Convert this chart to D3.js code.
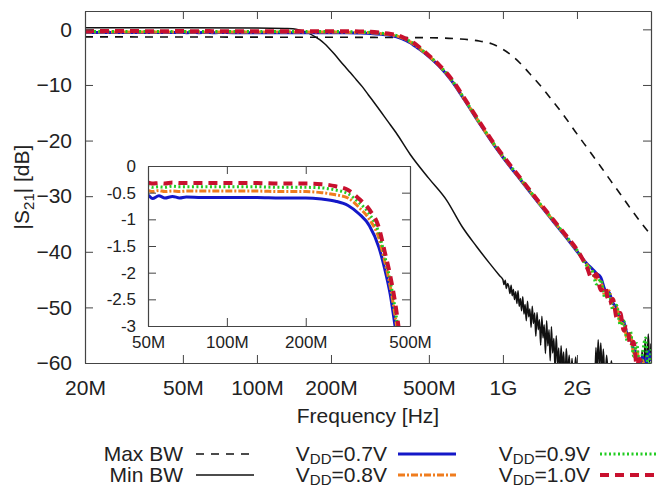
<!DOCTYPE html>
<html>
<head>
<meta charset="utf-8">
<script src="https://cdn.jsdelivr.net/npm/d3@7"></script>
<style>
body { margin: 0; background: #fff; }
svg text { font-family: "Liberation Sans", Arial, sans-serif; fill: #222; }
</style>
</head>
<body>
<script>
// all frequencies in MHz, levels in dB
let xTicks = [20, 50, 100, 200, 500, 1000, 2000]
let xTickLabels = ["20M", "50M", "100M", "200M", "500M", "1G", "2G"]
let yTicks = [0, -10, -20, -30, -40, -50, -60]
let insetXTicks = [50, 100, 200, 500]
let insetXTickLabels = ["50M", "100M", "200M", "500M"]
let insetYTicks = [0, -0.5, -1, -1.5, -2, -2.5, -3]

let maxBwFreq = [20, 100, 300, 500, 650, 800, 900, 1000, 1100, 1200, 1300, 1450, 1600, 1750, 2000, 2250, 2500, 2750, 3000, 3300, 3650, 4000]
let maxBwDb = [-1.35, -1.4, -1.45, -1.5, -1.7, -2.1, -2.6, -3.6, -4.9, -6.5, -8.2, -10.6, -13.0, -15.2, -18.8, -21.9, -24.7, -27.3, -29.6, -32.2, -34.8, -37.0]

let minBwFreq = [20, 50, 100, 130, 140, 150, 158, 165, 172, 180, 188, 196, 206, 217, 228, 240, 254, 268, 284, 300,
    340, 368, 420, 500, 590, 683, 780, 880, 970,
    1000, 1010, 1022, 1033, 1045, 1056, 1068, 1080, 1091, 1103, 1115, 1127, 1140, 1152, 1165, 1178, 1191, 1204, 1218, 1231,
    1245, 1259, 1273, 1287, 1302, 1316, 1331, 1346, 1361, 1376, 1392, 1408, 1424, 1440, 1456, 1472, 1489, 1506, 1523, 1540,
    1557, 1575, 1593, 1611, 1629, 1648, 1667, 1686, 1705, 1724,
    1745, 1765, 1790, 1810, 1835, 1860, 1885, 1910, 1940, 1975, 2010, 2060, 2120, 2200, 2260, 2310, 2360, 2390, 2410, 2440,
    2470, 2500, 2530, 2560, 2600, 2640, 2700, 2760, 2850, 2950, 3050, 3200, 3350, 3500, 3600, 3680, 3730, 3790, 3840, 3900,
    3950, 4000]
let minBwDb = [0.3, 0.3, 0.25, 0.15, 0.1, -0.15, -0.45, -0.85, -1.3, -1.85, -2.55, -3.35, -4.4, -5.6, -6.7, -7.8, -9.1, -10.3, -11.8, -13.2,
    -16.5, -18.6, -22.5, -26.8, -30.7, -35.5, -39.0, -42.0, -44.3,
    -45.0, -45.9, -45.1, -46.6, -45.7, -46.2, -47.5, -46.0, -47.9, -46.8, -48.6, -47.2, -49.3, -47.0, -49.8, -48.4, -50.6, -48.1, -51.2, -49.5,
    -52.4, -48.9, -51.7, -50.3, -53.6, -49.8, -52.9, -51.0, -55.2, -50.9, -54.0, -52.2, -56.8, -51.6, -55.5, -53.1, -58.3, -52.4, -56.9, -54.0,
    -59.6, -53.5, -58.2, -55.6, -61.0, -55.1, -60.4, -57.3, -62.5, -56.9,
    -61, -58.0, -63, -57.4, -61.5, -58.6, -63, -59.2, -64, -58.9, -63, -60.3, -64, -62, -65, -61, -64, -57.2, -62, -55.8,
    -61, -56.4, -62, -57.5, -63, -58.6, -64, -59.6, -65, -61, -64, -62, -65, -60.5, -64, -57.8, -62, -55.6, -61, -54.8,
    -60, -56.5]

let vddFreq = [20, 30, 40, 50, 52, 55, 58, 62, 66, 70, 80, 100, 130, 160, 200, 230, 260, 290, 320, 350,
    380, 400, 420, 440, 460, 500, 550, 620, 700, 800, 900, 1000, 1200, 1400, 1600, 1800, 2000, 2200, 2300, 2400,
    2500, 2600, 2700, 2800, 2900, 3000, 3100, 3200, 3300, 3400, 3500, 3600, 3700, 3800, 3900, 4000]
let vdd07Db = [-0.57, -0.58, -0.57, -0.55, -0.61, -0.56, -0.6, -0.57, -0.6, -0.58, -0.59, -0.59, -0.59, -0.6, -0.6, -0.62, -0.66, -0.74, -0.9, -1.12,
    -1.52, -1.92, -2.4, -3.05, -3.65, -4.9, -6.6, -9.3, -12.8, -16.8, -20.2, -23.0, -27.5, -31.3, -34.5, -37.3, -39.9, -42.2, -43.0, -43.9,
    -44.6, -46.8, -47.3, -49.2, -50.1, -52.0, -52.6, -54.8, -55.2, -57.6, -58.1, -60.5, -58.8, -61.0, -57.9, -59.6]
let vdd08Db = [-0.47, -0.46, -0.48, -0.46, -0.48, -0.46, -0.48, -0.47, -0.48, -0.47, -0.47, -0.47, -0.47, -0.48, -0.48, -0.5, -0.54, -0.6, -0.78, -1.0,
    -1.35, -1.78, -2.25, -2.85, -3.5, -4.8, -6.5, -9.2, -12.7, -16.7, -20.1, -22.9, -27.4, -31.2, -34.4, -37.2, -39.8, -42.4, -43.5, -45.0,
    -45.4, -47.9, -47.0, -49.8, -50.0, -52.7, -53.1, -55.6, -55.0, -58.2, -57.4, -61.0, -59.5, -62.0, -60.2, -62.5]
let vdd09Db = [-0.39, -0.38, -0.4, -0.38, -0.4, -0.39, -0.4, -0.38, -0.39, -0.39, -0.39, -0.39, -0.39, -0.4, -0.4, -0.41, -0.45, -0.52, -0.69, -0.9,
    -1.25, -1.68, -2.15, -2.72, -3.4, -4.75, -6.45, -9.1, -12.6, -16.6, -20.0, -22.8, -27.3, -31.1, -34.3, -37.1, -39.7, -42.6, -43.2, -45.8,
    -45.0, -48.3, -47.6, -50.5, -49.6, -53.2, -52.4, -56.0, -54.3, -58.8, -56.5, -61.5, -58.0, -55.5, -61.0, -57.5]
let vdd10Db = [-0.32, -0.31, -0.33, -0.31, -0.33, -0.32, -0.33, -0.31, -0.32, -0.32, -0.32, -0.32, -0.32, -0.33, -0.33, -0.34, -0.38, -0.45, -0.62, -0.82,
    -1.15, -1.6, -2.05, -2.6, -3.3, -4.7, -6.4, -9.0, -12.5, -16.5, -19.9, -22.7, -27.2, -31.0, -34.2, -37.0, -39.6, -42.9, -44.8, -44.0,
    -46.9, -46.2, -49.3, -48.5, -51.8, -51.0, -54.2, -53.5, -57.0, -56.2, -60.5, -59.3, -61.5, -60.5, -62.0, -61.5]

let black = "#111"
let blue = "#1418c8"
let orange = "#f07d1e"
let green = "#22cc22"
let red = "#c8102e"

let series = [
    {name: "maxbw", freq: maxBwFreq, db: maxBwDb, color: black, width: 1.6, dash: "8,7", main: true, inset: false},
    {name: "minbw", freq: minBwFreq, db: minBwDb, color: black, width: 1.5, dash: null, main: true, inset: false},
    {name: "v07", freq: vddFreq, db: vdd07Db, color: blue, width: 3, dash: null, main: true, inset: true},
    {name: "v08", freq: vddFreq, db: vdd08Db, color: orange, width: 3, dash: "7,2,2,2", main: true, inset: true},
    {name: "v09", freq: vddFreq, db: vdd09Db, color: green, width: 3, dash: "2,2.5", main: true, inset: true},
    {name: "v10", freq: vddFreq, db: vdd10Db, color: red, width: 4, dash: "9,6", main: true, inset: true}
]

let frame = "#444"

let svg = d3.select("body").append("svg")
    .attr("width", 666)
    .attr("height", 490)

let x = d3.scaleLog().domain([20, 4000]).range([85, 651])
let y = d3.scaleLinear().domain([-60, 3.3]).range([363, 11])
let xi = d3.scaleLog().domain([50, 500]).range([148, 410])
let yi = d3.scaleLinear().domain([-3, 0]).range([326, 166])

let defs = svg.append("defs")
defs.append("clipPath").attr("id", "clipMain")
    .append("rect").attr("x", 85).attr("y", 11).attr("width", 566).attr("height", 352)
defs.append("clipPath").attr("id", "clipInset")
    .append("rect").attr("x", 148).attr("y", 166).attr("width", 262).attr("height", 160)

function styleAxis(g, size) {
    g.selectAll(".domain").attr("stroke", frame).attr("stroke-width", 1.2)
    g.selectAll(".tick line").attr("stroke", frame).attr("stroke-width", 1)
    g.selectAll("text").attr("font-size", size).attr("fill", "#222")
        .attr("font-family", "'Liberation Sans', Arial, sans-serif")
}

function drawLines(g, xs, ys, which, clip) {
    let lines = g.append("g").attr("clip-path", "url(#" + clip + ")")
    series.filter(s => s[which]).forEach(s => {
        let pts = s.freq.map((f, k) => [f, s.db[k]])
        lines.append("path")
            .datum(pts)
            .attr("fill", "none")
            .attr("stroke", s.color)
            .attr("stroke-width", s.width)
            .attr("stroke-dasharray", s.dash)
            .attr("d", d3.line().x(d => xs(d[0])).y(d => ys(d[1])).curve(d3.curveMonotoneX))
    })
}

// main plot
drawLines(svg, x, y, "main", "clipMain")

svg.append("g").attr("transform", "translate(0,363)")
    .call(d3.axisBottom(x).tickValues(xTicks).tickFormat((d, i) => xTickLabels[i])
        .tickSizeInner(-8).tickSizeOuter(0).tickPadding(17))
    .call(g => styleAxis(g, 21))
svg.append("g").attr("transform", "translate(0,11)")
    .call(d3.axisTop(x).tickValues(xTicks).tickFormat("").tickSizeInner(-8).tickSizeOuter(0))
    .call(g => styleAxis(g, 21))
svg.append("g").attr("transform", "translate(85,0)")
    .call(d3.axisLeft(y).tickValues(yTicks).tickSizeInner(-8).tickSizeOuter(0).tickPadding(13))
    .call(g => styleAxis(g, 21))
svg.append("g").attr("transform", "translate(651,0)")
    .call(d3.axisRight(y).tickValues(yTicks).tickFormat("").tickSizeInner(-8).tickSizeOuter(0))
    .call(g => styleAxis(g, 21))

// inset
svg.append("rect").attr("x", 148).attr("y", 166).attr("width", 262).attr("height", 160).attr("fill", "#fff")
drawLines(svg, xi, yi, "inset", "clipInset")

svg.append("g").attr("transform", "translate(0,326)")
    .call(d3.axisBottom(xi).tickValues(insetXTicks).tickFormat((d, i) => insetXTickLabels[i])
        .tickSizeInner(-8).tickSizeOuter(0).tickPadding(10))
    .call(g => styleAxis(g, 17))
svg.append("g").attr("transform", "translate(0,166)")
    .call(d3.axisTop(xi).tickValues(insetXTicks).tickFormat("").tickSizeInner(-8).tickSizeOuter(0))
    .call(g => styleAxis(g, 17))
svg.append("g").attr("transform", "translate(148,0)")
    .call(d3.axisLeft(yi).tickValues(insetYTicks).tickFormat(d => d).tickSizeInner(-8).tickSizeOuter(0).tickPadding(12))
    .call(g => styleAxis(g, 17))
svg.append("g").attr("transform", "translate(410,0)")
    .call(d3.axisRight(yi).tickValues(insetYTicks).tickFormat("").tickSizeInner(-8).tickSizeOuter(0))
    .call(g => styleAxis(g, 17))

// axis titles
svg.append("text")
    .attr("x", 368).attr("y", 423)
    .attr("text-anchor", "middle").attr("font-size", 21)
    .text("Frequency [Hz]")

let ylab = svg.append("text")
    .attr("transform", "translate(29,187) rotate(-90)")
    .attr("text-anchor", "middle").attr("font-size", 21)
ylab.append("tspan").text("|S")
ylab.append("tspan").attr("font-size", 15).attr("dy", 5).text("21")
ylab.append("tspan").attr("dy", -5).text("| [dB]")

// legend
let legendItems = [
    {series: "maxbw", label: "Max BW", sub: null, col: 0, row: 0},
    {series: "minbw", label: "Min BW", sub: null, col: 0, row: 1},
    {series: "v07", label: "0.7V", sub: "DD", col: 1, row: 0},
    {series: "v08", label: "0.8V", sub: "DD", col: 1, row: 1},
    {series: "v09", label: "0.9V", sub: "DD", col: 2, row: 0},
    {series: "v10", label: "1.0V", sub: "DD", col: 2, row: 1}
]
let colTextEnd = [183, 387, 590]
let colLineStart = [196, 398, 600]
let rowBase = [461, 482]

legendItems.forEach(it => {
    let s = series.find(d => d.name == it.series)
    let t = svg.append("text")
        .attr("x", colTextEnd[it.col]).attr("y", rowBase[it.row])
        .attr("text-anchor", "end").attr("font-size", 21)
    if (it.sub) {
        t.append("tspan").text("V")
        t.append("tspan").attr("font-size", 15).attr("dy", 3).text(it.sub)
        t.append("tspan").attr("dy", -3).text("=" + it.label)
    } else {
        t.text(it.label)
    }
    svg.append("line")
        .attr("x1", colLineStart[it.col]).attr("x2", colLineStart[it.col] + 58)
        .attr("y1", rowBase[it.row] - 7).attr("y2", rowBase[it.row] - 7)
        .attr("stroke", s.color)
        .attr("stroke-width", s.width)
        .attr("stroke-dasharray", s.dash)
})
</script>
</body>
</html>
